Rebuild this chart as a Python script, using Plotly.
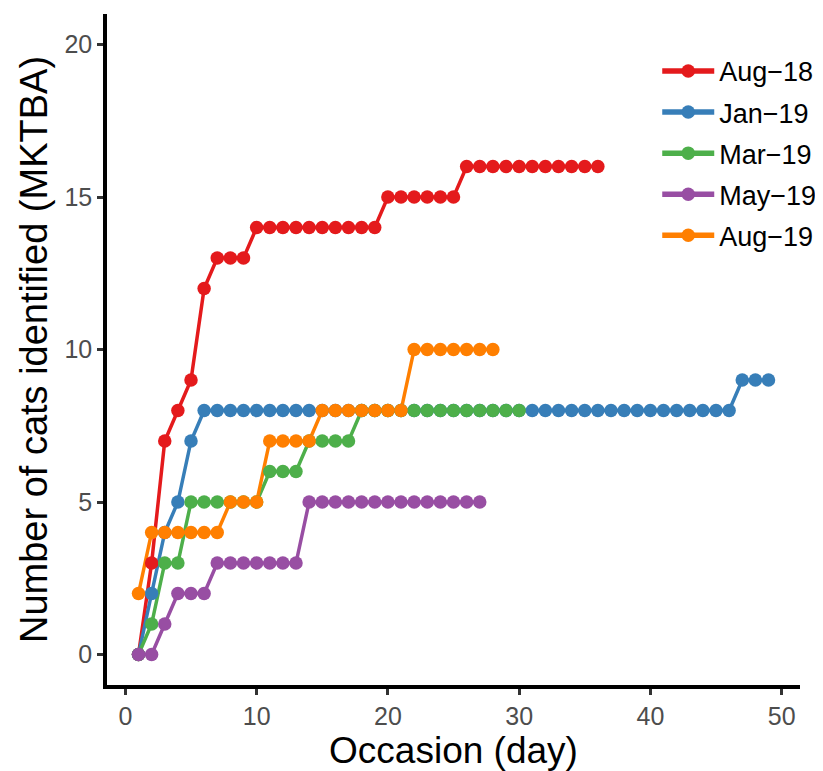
import plotly.graph_objects as go

# ---- data ----
series_names = ["Aug\u221218", "Jan\u221219", "Mar\u221219", "May\u221219", "Aug\u221219"]
series_colors = ["#E41A1C", "#377EB8", "#4DAF4A", "#984EA3", "#FF7F00"]

aug18_days = [1, 2, 3, 4, 5, 6, 7, 8, 9, 10, 11, 12, 13, 14, 15, 16, 17, 18, 19, 20,
              21, 22, 23, 24, 25, 26, 27, 28, 29, 30, 31, 32, 33, 34, 35, 36]
aug18_cats = [0, 3, 7, 8, 9, 12, 13, 13, 13, 14, 14, 14, 14, 14, 14, 14, 14, 14, 14, 15,
              15, 15, 15, 15, 15, 16, 16, 16, 16, 16, 16, 16, 16, 16, 16, 16]

jan19_days = [1, 2, 3, 4, 5, 6, 7, 8, 9, 10, 11, 12, 13, 14, 15, 16, 17, 18, 19, 20,
              21, 22, 23, 24, 25, 26, 27, 28, 29, 30, 31, 32, 33, 34, 35, 36, 37, 38, 39, 40,
              41, 42, 43, 44, 45, 46, 47, 48, 49]
jan19_cats = [0, 2, 4, 5, 7, 8, 8, 8, 8, 8, 8, 8, 8, 8, 8, 8, 8, 8, 8, 8,
              8, 8, 8, 8, 8, 8, 8, 8, 8, 8, 8, 8, 8, 8, 8, 8, 8, 8, 8, 8,
              8, 8, 8, 8, 8, 8, 9, 9, 9]

mar19_days = [1, 2, 3, 4, 5, 6, 7, 8, 9, 10, 11, 12, 13, 14, 15, 16, 17, 18, 19, 20,
              21, 22, 23, 24, 25, 26, 27, 28, 29, 30]
mar19_cats = [0, 1, 3, 3, 5, 5, 5, 5, 5, 5, 6, 6, 6, 7, 7, 7, 7, 8, 8, 8,
              8, 8, 8, 8, 8, 8, 8, 8, 8, 8]

may19_days = [1, 2, 3, 4, 5, 6, 7, 8, 9, 10, 11, 12, 13, 14, 15, 16, 17, 18, 19, 20,
              21, 22, 23, 24, 25, 26, 27]
may19_cats = [0, 0, 1, 2, 2, 2, 3, 3, 3, 3, 3, 3, 3, 5, 5, 5, 5, 5, 5, 5,
              5, 5, 5, 5, 5, 5, 5]

aug19_days = [1, 2, 3, 4, 5, 6, 7, 8, 9, 10, 11, 12, 13, 14, 15, 16, 17, 18, 19, 20,
              21, 22, 23, 24, 25, 26, 27, 28]
aug19_cats = [2, 4, 4, 4, 4, 4, 4, 5, 5, 5, 7, 7, 7, 7, 8, 8, 8, 8, 8, 8,
              8, 10, 10, 10, 10, 10, 10, 10]

x_ticks = [0, 10, 20, 30, 40, 50]
y_ticks = [0, 5, 10, 15, 20]

all_days = [aug18_days, jan19_days, mar19_days, may19_days, aug19_days]
all_cats = [aug18_cats, jan19_cats, mar19_cats, may19_cats, aug19_cats]

FONT = "Liberation Sans, Arial, sans-serif"
LW = 3.5
MS = 13.5

fig = go.Figure()
# lines layer first (as in ggplot geom_line then geom_point)
for name, col, xs, ys in zip(series_names, series_colors, all_days, all_cats):
    fig.add_trace(go.Scatter(x=xs, y=ys, mode="lines", line=dict(color=col, width=LW),
                             showlegend=False, hoverinfo="skip", legendgroup=name))
for name, col, xs, ys in zip(series_names, series_colors, all_days, all_cats):
    fig.add_trace(go.Scatter(x=xs, y=ys, mode="markers", marker=dict(color=col, size=MS),
                             showlegend=False, name=name, legendgroup=name))
# legend entries
for name, col in zip(series_names, series_colors):
    fig.add_trace(go.Scatter(x=[None], y=[None], mode="lines+markers", name=name,
                             line=dict(color=col, width=LW + 2),
                             marker=dict(color=col, size=MS),
                             legendgroup=name, showlegend=True))

axis_common = dict(
    showgrid=False, zeroline=False, showline=True, linecolor="black", linewidth=3.5,
    ticks="outside", ticklen=6, tickwidth=2.5, tickcolor="#333333",
    tickfont=dict(family=FONT, size=25, color="#4D4D4D"),
    mirror=False,
)

fig.update_layout(
    width=815, height=763,
    paper_bgcolor="white", plot_bgcolor="white",
    margin=dict(l=99, r=23, t=6, b=86, autoexpand=False),
    font=dict(family=FONT),
    xaxis=dict(range=[-1.4, 51.4], tickvals=x_ticks, ticktext=[str(v) for v in x_ticks],
               title=dict(text="Occasion (day)", font=dict(family=FONT, size=37, color="black"),
                          standoff=2),
               **axis_common),
    yaxis=dict(range=[-1, 21], tickvals=y_ticks, ticktext=[str(v) for v in y_ticks],
               title=dict(text="Number of cats identified (MKTBA)",
                          font=dict(family=FONT, size=38, color="black"), standoff=6),
               **axis_common),
    legend=dict(x=0.794, y=0.951, xanchor="left", yanchor="top",
                font=dict(family=FONT, size=27, color="black"),
                bgcolor="rgba(255,255,255,0)", tracegroupgap=3, itemwidth=52),
)

fig.write_html("out.html")
